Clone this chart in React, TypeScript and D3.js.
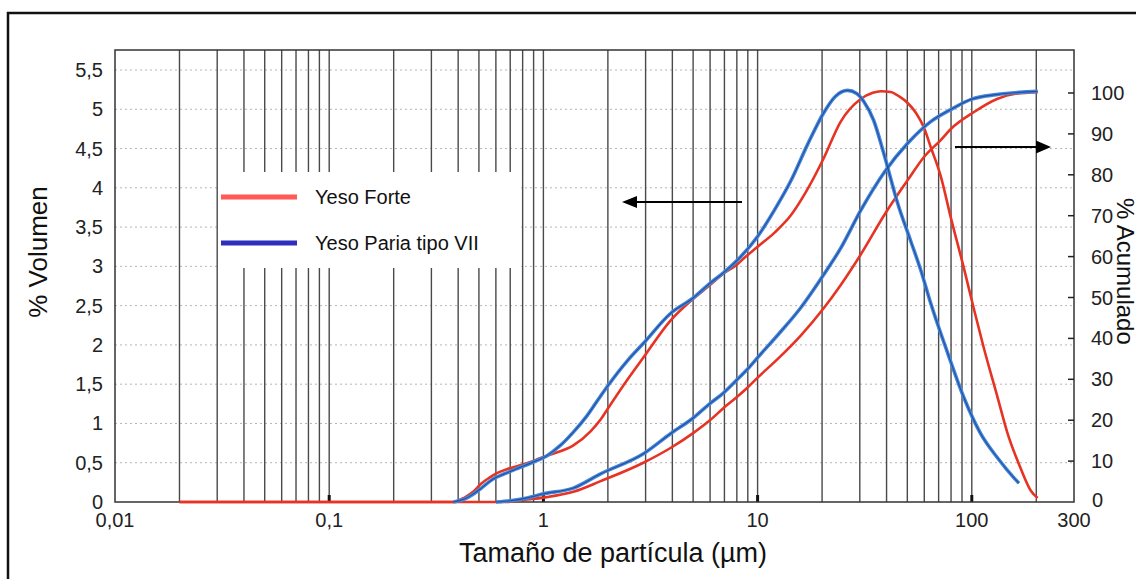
import React from 'react';
import * as d3 from 'd3';

// particle size (µm) / value pairs
const forteFreqSize = [0.02, 0.38, 0.43, 0.47, 0.51, 0.56, 0.61, 0.68, 0.76, 0.87, 0.97, 1.1, 1.38, 1.66, 1.85, 2.0, 2.47, 2.93, 3.92, 5.02, 5.97, 6.94, 8.0, 8.6, 10, 12, 14.3, 17, 20.3, 24.4, 30.3, 34.5, 37.6, 41.8, 46, 50.2, 55, 59.7, 64.3, 71.6, 79.8, 91.8, 102, 113.8, 132, 147, 169, 189, 203];
const forteFreqVol = [0, 0, 0.06, 0.13, 0.23, 0.31, 0.37, 0.42, 0.46, 0.51, 0.56, 0.61, 0.72, 0.9, 1.05, 1.19, 1.56, 1.84, 2.31, 2.59, 2.76, 2.91, 3.02, 3.1, 3.25, 3.43, 3.65, 3.97, 4.37, 4.84, 5.13, 5.21, 5.23, 5.22, 5.16, 5.08, 4.95, 4.77, 4.52, 4.15, 3.62, 2.98, 2.47, 1.96, 1.33, 0.87, 0.43, 0.14, 0.05];

const pariaFreqSize = [0.38, 0.43, 0.47, 0.52, 0.58, 0.66, 0.76, 0.88, 1.04, 1.2, 1.38, 1.6, 1.85, 2.0, 2.47, 2.93, 3.92, 5.02, 5.97, 6.94, 7.98, 10, 12, 14.3, 17.1, 20.3, 23, 26.3, 29, 31.3, 34.8, 38.8, 45.1, 51.9, 57.8, 64.3, 77.3, 91.8, 110, 132, 157, 166];
const pariaFreqVol = [0, 0.04, 0.1, 0.19, 0.29, 0.36, 0.43, 0.5, 0.59, 0.72, 0.89, 1.1, 1.35, 1.48, 1.8, 2.02, 2.4, 2.6, 2.78, 2.92, 3.07, 3.38, 3.72, 4.09, 4.55, 4.95, 5.16, 5.24, 5.2, 5.1, 4.86, 4.44, 3.8, 3.32, 2.95, 2.53, 1.89, 1.33, 0.87, 0.56, 0.31, 0.24];

const forteCumSize = [0.02, 0.68, 0.76, 0.84, 1.04, 1.38, 1.85, 2.93, 3.92, 5.02, 5.97, 6.94, 7.98, 8.98, 10, 12.6, 15.9, 20.3, 24.4, 30.3, 39.5, 50.2, 59.7, 71.6, 79.8, 102, 132, 160, 203];
const forteCumPct = [0, 0, 0.3, 0.6, 1.2, 2.5, 5.1, 9.6, 13.2, 16.9, 19.9, 23, 25.6, 28, 30.4, 35.3, 40.7, 47.3, 53, 60.5, 70.6, 78.7, 84.3, 88.5, 91.2, 95.3, 98.6, 99.8, 100.2];

const pariaCumSize = [0.6, 0.7, 0.84, 1.0, 1.38, 1.85, 2.93, 3.92, 5.02, 5.97, 6.94, 7.98, 8.98, 10, 12.6, 15.9, 20.3, 24.4, 30.3, 39.5, 50.2, 64.3, 80, 100, 130, 203];
const pariaCumPct = [0, 0.3, 1, 2, 3.4, 6.9, 11.8, 16.7, 20.6, 24, 26.7, 29.8, 32.5, 35.3, 41.2, 47.5, 55.5, 62, 71.3, 81, 87.7, 93, 96, 98.5, 99.6, 100.4];

const leftTickValues = [0, 0.5, 1, 1.5, 2, 2.5, 3, 3.5, 4, 4.5, 5, 5.5];
const leftTickLabels = ['0', '0,5', '1', '1,5', '2', '2,5', '3', '3,5', '4', '4,5', '5', '5,5'];
const rightTickValues = [0, 10, 20, 30, 40, 50, 60, 70, 80, 90, 100];
const xTickValues = [0.01, 0.1, 1, 10, 100, 300];
const xTickLabels = ['0,01', '0,1', '1', '10', '100', '300'];
const seriesNames = ['Yeso Forte', 'Yeso Paria tipo VII'];

const FONT = 'Liberation Sans, Arial, sans-serif';

const zip = (a: number[], b: number[]) => a.map((v, i) => [v, b[i]] as [number, number]);

export default function App() {
  const left = 115, right = 1074, top = 50, bottom = 502;
  const x = d3.scaleLog().domain([0.01, 300]).range([left, right]);
  const yL = d3.scaleLinear().domain([0, 5.5]).range([bottom, 70]);
  const yR = d3.scaleLinear().domain([0, 100]).range([bottom, 93]);

  const lineL = d3.line<[number, number]>().x(d => x(d[0])).y(d => yL(d[1])).curve(d3.curveMonotoneX);
  const lineR = d3.line<[number, number]>().x(d => x(d[0])).y(d => yR(d[1])).curve(d3.curveMonotoneX);

  const gridX = x.ticks().filter(v => v > 0.011 && v < 290);
  const majors = [0.1, 1, 10, 100];

  const red = '#e63323';
  const blueOuter = '#4388dc';
  const blueInner = '#1f3f8e';

  return (
    <svg width={1136} height={579} style={{ position: 'absolute', left: 0, top: 0, background: '#fff' }} fontFamily={FONT}>
      <rect x={0} y={0} width={1136} height={579} fill="#fff" />
      {/* outer frame */}
      <rect x={8} y={13} width={1200} height={620} fill="none" stroke="#111" strokeWidth={2.5} />

      {/* horizontal dotted grid */}
      {leftTickValues.slice(1).map(v => (
        <line key={'h' + v} x1={left} x2={right} y1={yL(v)} y2={yL(v)} stroke="#b5b5b5" strokeWidth={1} strokeDasharray="2,3" />
      ))}

      {/* vertical grid */}
      {gridX.map(v => (
        <line key={'v' + v} x1={x(v)} x2={x(v)} y1={top} y2={bottom} stroke="#4a4a4a" strokeWidth={1.4} />
      ))}
      {majors.map(v => (
        <line key={'m' + v} x1={x(v)} x2={x(v)} y1={bottom - 7} y2={bottom} stroke="#111" strokeWidth={3} />
      ))}

      {/* legend box */}
      <rect x={x(0.03) + 1.5} y={172} width={x(0.8) - x(0.03) - 3} height={96} fill="#fff" />
      <line x1={221} x2={297} y1={197} y2={197} stroke="#ff5a55" strokeWidth={5} />
      <line x1={221} x2={297} y1={243} y2={243} stroke="#2f2fbf" strokeWidth={5} />
      <text x={315} y={197} dy="0.35em" fontSize={20} fill="#111">{seriesNames[0]}</text>
      <text x={315} y={243} dy="0.35em" fontSize={20} fill="#111">{seriesNames[1]}</text>

      {/* plot frame */}
      <rect x={left} y={top} width={right - left} height={bottom - top} fill="none" stroke="#333" strokeWidth={1.5} />

      {/* right axis ticks */}
      {rightTickValues.slice(1).map(v => (
        <line key={'rt' + v} x1={right - 6} x2={right} y1={yR(v)} y2={yR(v)} stroke="#222" strokeWidth={1.5} />
      ))}

      {/* curves */}
      <path d={lineL(zip(forteFreqSize, forteFreqVol)) || ''} fill="none" stroke={red} strokeWidth={2.6} />
      <path d={lineR(zip(forteCumSize, forteCumPct)) || ''} fill="none" stroke={red} strokeWidth={2.6} />
      <path d={lineL(zip(pariaFreqSize, pariaFreqVol)) || ''} fill="none" stroke={blueOuter} strokeWidth={3.6} />
      <path d={lineR(zip(pariaCumSize, pariaCumPct)) || ''} fill="none" stroke={blueOuter} strokeWidth={3.6} />
      <path d={lineL(zip(pariaFreqSize, pariaFreqVol)) || ''} fill="none" stroke={blueInner} strokeWidth={1.1} opacity={0.8} />
      <path d={lineR(zip(pariaCumSize, pariaCumPct)) || ''} fill="none" stroke={blueInner} strokeWidth={1.1} opacity={0.8} />

      {/* arrows */}
      <line x1={742} x2={634} y1={202} y2={202} stroke="#000" strokeWidth={1.8} />
      <polygon points="622,202 637,196 637,208" fill="#000" />
      <line x1={955} x2={1038} y1={147} y2={147} stroke="#000" strokeWidth={1.8} />
      <polygon points="1051,147 1036,140.5 1036,153.5" fill="#000" />

      {/* left axis labels */}
      {leftTickValues.map((v, i) => (
        <text key={'lt' + v} x={103} y={yL(v)} dy="0.35em" textAnchor="end" fontSize={20} fill="#222">{leftTickLabels[i]}</text>
      ))}
      {/* right axis labels */}
      {rightTickValues.map(v => (
        <text key={'rl' + v} x={v === 0 ? 1092 : 1091} y={v === 0 ? yR(v) - 2 : yR(v)} dy="0.35em" fontSize={20} fill="#222">{String(v)}</text>
      ))}
      {/* x labels */}
      {xTickValues.map((v, i) => (
        <text key={'xl' + v} x={x(v)} y={527} textAnchor="middle" fontSize={20} fill="#222">{xTickLabels[i]}</text>
      ))}

      {/* axis titles */}
      <text transform="translate(47,252) rotate(-90)" textAnchor="middle" fontSize={26} fill="#111">% Volumen</text>
      <text transform="translate(1117,198) rotate(90)" fontSize={24} fill="#111">% Acumulado</text>
      <text x={613} y={562} textAnchor="middle" fontSize={27} fill="#111">Tamaño de partícula (µm)</text>
    </svg>
  );
}
